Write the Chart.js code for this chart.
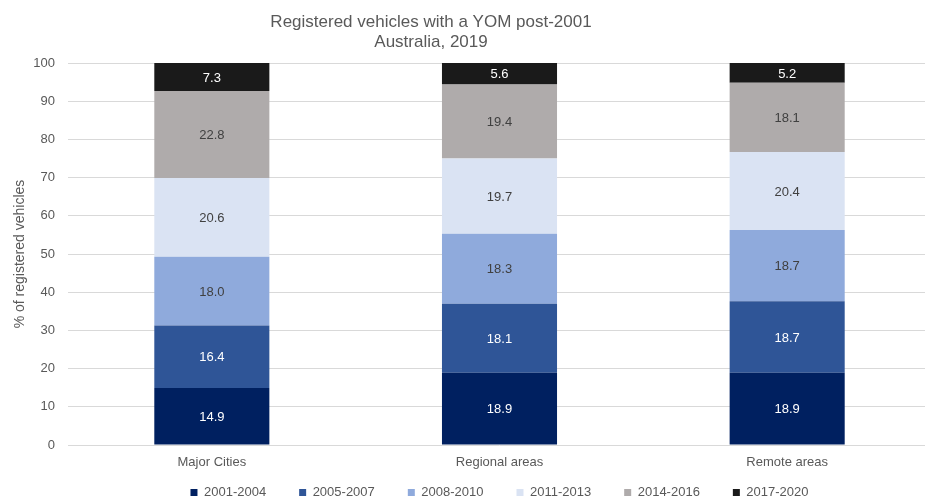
<!DOCTYPE html>
<html>
<head>
<meta charset="utf-8">
<script src="https://cdn.jsdelivr.net/npm/chart.js@4/dist/chart.umd.min.js"></script>
<style>
  html, body { margin: 0; padding: 0; background: #ffffff; overflow: hidden; width: 925px; height: 502px; }
  #wrap { position: absolute; left: 0; top: 0; width: 931px; height: 509px; }
</style>
</head>
<body>
<div id="wrap"><canvas id="c"></canvas></div>
<script>
const titleLines = ['Registered vehicles with a YOM post-2001', 'Australia, 2019'];
const yAxisTitle = '% of registered vehicles';
const categories = ['Major Cities', 'Regional areas', 'Remote areas'];
const seriesNames = ['2001-2004', '2005-2007', '2008-2010', '2011-2013', '2014-2016', '2017-2020'];
const s2001_2004 = [14.9, 18.9, 18.9];
const s2005_2007 = [16.4, 18.1, 18.7];
const s2008_2010 = [18.0, 18.3, 18.7];
const s2011_2013 = [20.6, 19.7, 20.4];
const s2014_2016 = [22.8, 19.4, 18.1];
const s2017_2020 = [7.3, 5.6, 5.2];
const seriesValues = [s2001_2004, s2005_2007, s2008_2010, s2011_2013, s2014_2016, s2017_2020];

const colors = ['#002060', '#2F5597', '#8FAADC', '#DAE3F3', '#AFABAB', '#1A1A1A'];
const labelColors = ['#ffffff', '#ffffff', '#404040', '#404040', '#404040', '#ffffff'];
const FONT = '"Liberation Sans", Arial, sans-serif';
const GREY = '#595959';

const titlePlugin = {
  id: 'customTitle',
  afterDraw(chart) {
    const ctx = chart.ctx;
    ctx.save();
    ctx.fillStyle = GREY;
    ctx.font = '17px ' + FONT;
    ctx.textAlign = 'center';
    ctx.textBaseline = 'alphabetic';
    ctx.fillText(titleLines[0], 431, 27);
    ctx.fillText(titleLines[1], 431, 47);
    ctx.restore();
  }
};

const valueLabels = {
  id: 'valueLabels',
  afterDatasetsDraw(chart) {
    const ctx = chart.ctx;
    ctx.save();
    ctx.font = '13px ' + FONT;
    ctx.textAlign = 'center';
    ctx.textBaseline = 'middle';
    chart.data.datasets.forEach((ds, i) => {
      const meta = chart.getDatasetMeta(i);
      meta.data.forEach((bar, j) => {
        const v = ds.data[j];
        const yMid = (bar.y + bar.base) / 2;
        ctx.fillStyle = labelColors[i];
        ctx.fillText(v.toFixed(1), bar.x, yMid + 1);
      });
    });
    ctx.restore();
  }
};

const datasets = seriesNames.map((name, i) => ({
  label: name,
  data: seriesValues[i],
  backgroundColor: colors[i],
  borderWidth: 0,
  barPercentage: 0.4,
  categoryPercentage: 1.0
}));

new Chart(document.getElementById('c'), {
  type: 'bar',
  data: { labels: categories, datasets },
  plugins: [titlePlugin, valueLabels],
  options: {
    responsive: true,
    maintainAspectRatio: false,
    animation: false,
    layout: { padding: { top: 63, left: 0, right: 0, bottom: 0 } },
    plugins: {
      title: { display: false },
      tooltip: { enabled: false },
      legend: {
        display: true,
        position: 'bottom',
        fullSize: false,
        weight: 2000,
        labels: {
          boxWidth: 7,
          boxHeight: 7,
          padding: 33,
          color: GREY,
          font: { family: FONT, size: 13 }
        }
      }
    },
    scales: {
      x: {
        stacked: true,
        weight: 0,
        grid: { display: false, drawTicks: false },
        border: { display: false },
        ticks: { color: GREY, font: { family: FONT, size: 13 }, padding: 10, maxRotation: 0 },
        afterFit(scale) {
          scale.height = 8;
          // keep the category labels from being clipped to the thin axis box
          scale._computeLabelArea = () => undefined;
        }
      },
      y: {
        stacked: true,
        min: 0,
        max: 100,
        grid: { color: '#D9D9D9', lineWidth: 1, drawTicks: false },
        border: { display: false },
        ticks: { stepSize: 10, color: GREY, font: { family: FONT, size: 13 }, padding: 13 },
        title: {
          display: true,
          text: yAxisTitle,
          color: GREY,
          font: { family: FONT, size: 14 },
          padding: { top: 12, bottom: 0 }
        },
        afterFit(scale) { scale.width = 68; }
      }
    }
  }
});
</script>
</body>
</html>
